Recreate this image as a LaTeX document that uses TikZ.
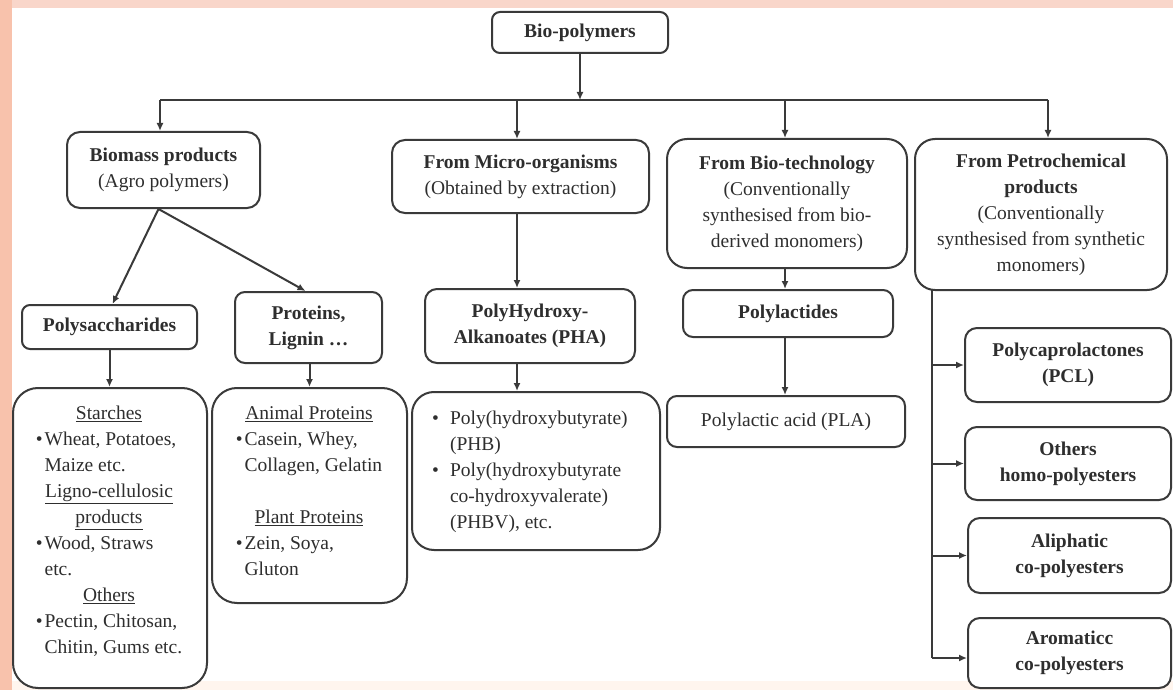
\documentclass[tikz,border=0pt]{standalone}
\usepackage{fontspec}
\setmainfont{Liberation Serif}
\usetikzlibrary{arrows.meta}
\definecolor{ln}{HTML}{3A3A3A}
\definecolor{tx}{HTML}{2E2E2E}
\definecolor{salmon}{HTML}{F8C2AC}
\definecolor{pinktop}{HTML}{F9D6CA}
\definecolor{peach}{HTML}{FFF5EE}
\tikzset{
  bx/.style={draw=ln, line width=2pt, fill=white, text=tx, align=center, inner sep=0pt,
    font=\fontsize{19.5pt}{26pt}\selectfont},
  txt/.style={text=tx, inner sep=0pt, font=\fontsize{19.5pt}{26pt}\selectfont},
  conn/.style={draw=ln, line width=2pt},
  arr/.style={draw=ln, line width=2pt, -{Latex[length=8pt,width=7pt]}}
}
\begin{document}
\begin{tikzpicture}[x=1pt,y=-1pt]
\useasboundingbox (0,0) rectangle (1173,690);
\fill[white] (0,0) rectangle (1173,690);
\fill[peach] (0,681) rectangle (1173,690);
\fill[pinktop] (0,0) rectangle (1173,8);
\fill[salmon] (0,0) rectangle (12,690);

% top level
\node[bx, minimum width=176pt, minimum height=41pt, rounded corners=8pt] (bp) at (580,32.5) {\textbf{Bio-polymers}};

% second level
\node[bx, minimum width=193pt, minimum height=76pt, rounded corners=13pt] (bm) at (163.5,170) {\textbf{Biomass products}\\(Agro polymers)};
\node[bx, minimum width=257pt, minimum height=73pt, rounded corners=13pt] (micro) at (520.5,176.5) {\textbf{From Micro-organisms}\\(Obtained by extraction)};
\node[bx, minimum width=240pt, minimum height=129pt, rounded corners=20pt] (biot) at (787,203.5) {\textbf{From Bio-technology}\\(Conventionally\\synthesised from bio-\\derived monomers)};
\node[bx, minimum width=252pt, minimum height=151pt, rounded corners=20pt] (petro) at (1041,214.5) {\textbf{From Petrochemical}\\\textbf{products}\\(Conventionally\\synthesised from synthetic\\monomers)};

% third level
\node[bx, minimum width=175pt, minimum height=44pt, rounded corners=8pt] (polys) at (109.5,327) {\textbf{Polysaccharides}};
\node[bx, minimum width=147pt, minimum height=71pt, rounded corners=10pt] (prot) at (308.5,327.5) {\textbf{Proteins,}\\\textbf{Lignin \dots}};
\node[bx, minimum width=210pt, minimum height=74pt, rounded corners=12pt] (pha) at (530,326) {\textbf{PolyHydroxy-}\\\textbf{Alkanoates (PHA)}};
\node[bx, minimum width=210pt, minimum height=47pt, rounded corners=10pt] (polyl) at (788,313.5) {\textbf{Polylactides}};

% fourth level boxes
\node[bx, minimum width=194pt, minimum height=300pt, rounded corners=25pt] (starch) at (110,538) {};
\node[bx, minimum width=195pt, minimum height=215pt, rounded corners=25pt] (animal) at (309.5,495.5) {};
\node[bx, minimum width=248pt, minimum height=158pt, rounded corners=22pt] (phb) at (536,471) {};
\node[bx, minimum width=238pt, minimum height=51pt, rounded corners=10pt] (pla) at (786,421.5) {Polylactic acid (PLA)};

\node[bx, minimum width=206pt, minimum height=74pt, rounded corners=12pt] (pcl) at (1068,365) {\textbf{Polycaprolactones}\\\textbf{(PCL)}};
\node[bx, minimum width=206pt, minimum height=73pt, rounded corners=12pt] (homo) at (1068,463.5) {\textbf{Others}\\\textbf{homo-polyesters}};
\node[bx, minimum width=203pt, minimum height=75pt, rounded corners=12pt] (aliph) at (1069.5,555.5) {\textbf{Aliphatic}\\\textbf{co-polyesters}};
\node[bx, minimum width=203pt, minimum height=70pt, rounded corners=12pt] (arom) at (1069.5,653) {\textbf{Aromaticc}\\\textbf{co-polyesters}};

% texts of the big boxes
\node[txt, anchor=north] (starchT) at (109,401) {%
\begin{tabular}{@{}l@{\hspace{2pt}}l@{}}
\multicolumn{2}{c}{\underline{Starches}}\\
\textbullet & Wheat, Potatoes,\\
 & Maize etc.\\
\multicolumn{2}{c}{\underline{Ligno-cellulosic}}\\
\multicolumn{2}{c}{\underline{products}}\\
\textbullet & Wood, Straws\\
 & etc.\\
\multicolumn{2}{c}{\underline{Others}}\\
\textbullet & Pectin, Chitosan,\\
 & Chitin, Gums etc.
\end{tabular}};
\node[txt, anchor=north] (animalT) at (309,401) {%
\begin{tabular}{@{}l@{\hspace{2pt}}l@{}}
\multicolumn{2}{c}{\underline{Animal Proteins}}\\
\textbullet & Casein, Whey,\\
 & Collagen, Gelatin\\
 & \\
\multicolumn{2}{c}{\underline{Plant Proteins}}\\
\textbullet & Zein, Soya,\\
 & Gluton
\end{tabular}};
\node[txt, anchor=north west] (phbT) at (432,406) {%
\begin{tabular}{@{}l@{\hspace{11pt}}l@{}}
\textbullet & Poly(hydroxybutyrate)\\
 & (PHB)\\
\textbullet & Poly(hydroxybutyrate\\
 & co-hydroxyvalerate)\\
 & (PHBV), etc.
\end{tabular}};

% connectors
\coordinate (bus) at (580,100);
\coordinate (b1) at (160,100);
\coordinate (b2) at (517,100);
\coordinate (b3) at (785,100);
\coordinate (b4) at (1048,100);
\draw[conn] (b1) -- (b4);
\draw[arr] (bp) -- (bus);
\draw[arr] (b1) -- (b1 |- bm.north);
\draw[arr] (b2) -- (b2 |- micro.north);
\draw[arr] (b3) -- (b3 |- biot.north);
\draw[arr] (b4) -- (b4 |- petro.north);

\draw[arr] ([xshift=-5pt]bm.south) -- ([xshift=3pt]polys.north);
\draw[arr] ([xshift=-5pt]bm.south) -- ([xshift=-3pt]prot.north);
\draw[arr] (polys) -- (polys |- starch.north);
\draw[arr] ([xshift=1pt]prot.south) -- ([xshift=1pt]prot.south |- animal.north);
\draw[arr] (b2 |- micro.south) -- (b2 |- pha.north);
\draw[arr] (b2 |- pha.south) -- (b2 |- phb.north);
\draw[arr] (b3 |- biot.south) -- (b3 |- polyl.north);
\draw[arr] (b3 |- polyl.south) -- (b3 |- pla.north);

\coordinate (t0) at (932,290);
\coordinate (tend) at (932,658);
\draw[conn] (t0) -- (tend);
\draw[arr] (t0 |- pcl.west) -- (pcl.west);
\draw[arr] (t0 |- homo.west) -- (homo.west);
\draw[arr] (t0 |- aliph.west) -- (aliph.west);
\draw[arr] (tend) -- (tend -| arom.west);
\end{tikzpicture}
\end{document}
